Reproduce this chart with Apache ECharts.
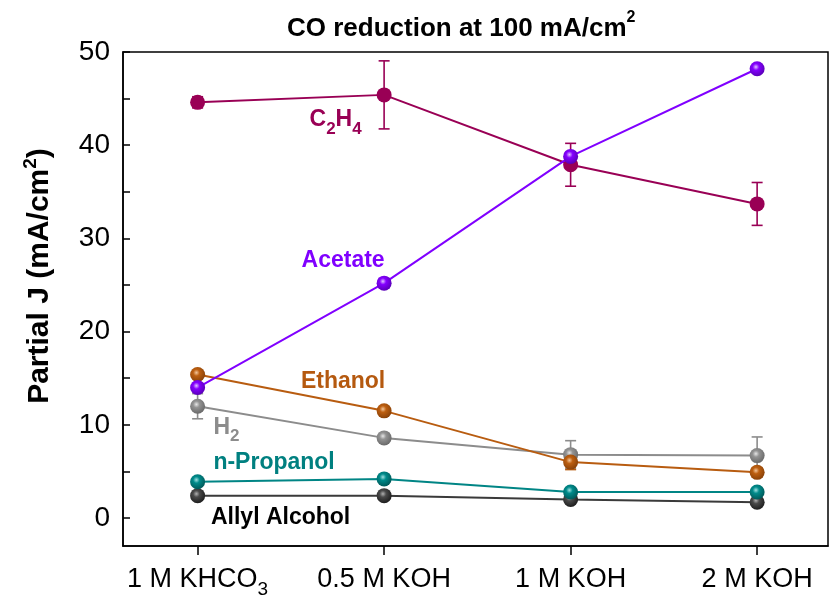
<!DOCTYPE html>
<html>
<head>
<meta charset="utf-8">
<script src="https://cdn.jsdelivr.net/npm/echarts@6/dist/echarts.min.js"></script>
<style>
  html, body { margin: 0; padding: 0; background: #fff; }
  #chart { width: 830px; height: 599px; }
</style>
</head>
<body>
<div id="chart"></div>
<script>
// Electrolyte conditions along the x axis (positions 1..4)
const conditions = ['1 M KHCO3', '0.5 M KOH', '1 M KOH', '2 M KOH'];
const conditionPos = [1, 2, 3, 4];
const yTickValues = [0, 10, 20, 30, 40, 50];
const yMinorTicks = [0, 5, 10, 15, 20, 25, 30, 35, 40, 45, 50];

// Partial current densities (mA/cm2) and their error bars
const c2h4 = [44.6, 45.4, 37.9, 33.7];
const c2h4Err = [0.6, 3.65, 2.3, 2.3];
const acetate = [14.0, 25.2, 38.8, 48.2];
const acetateErr = [0.3, 0.5, 0.3, 0.3];
const ethanol = [15.4, 11.5, 6.0, 4.9];
const ethanolErr = [0.3, 0.3, 0.8, 0.5];
const h2 = [12.0, 8.6, 6.8, 6.7];
const h2Err = [1.35, 0.3, 1.5, 2.0];
const propanol = [3.9, 4.2, 2.8, 2.8];
const propanolErr = [0.3, 0.2, 0.3, 0.2];
const allyl = [2.4, 2.4, 2.0, 1.7];
const allylErr = [0.2, 0.2, 0.2, 0.2];

// Where each product name sits, in data coordinates [x, y]
const nameAnchors = {
  c2h4: [1.74, 42.4],
  acetate: [1.78, 27.6],
  ethanol: [1.78, 14.6],
  h2: [1.155, 9.4],
  propanol: [1.41, 5.9],
  allyl: [1.445, -0.05]
};

const FONT = 'Liberation Sans, Arial, sans-serif';
const ZWSP = '\u200b';

function sphere(base, light, dark) {
  return {
    type: 'radial', x: 0.42, y: 0.38, r: 0.62,
    colorStops: [
      { offset: 0, color: light },
      { offset: 0.35, color: base },
      { offset: 1, color: dark }
    ]
  };
}

const products = [
  { key: 'allyl', name: 'Allyl Alcohol', vals: allyl, err: allylErr, color: '#3a3a3a',
    marker: sphere('#4a4a4a', '#b0b0b0', '#1e1e1e'), text: '{b|Allyl Alcohol}', textColor: '#000' },
  { key: 'propanol', name: 'n-Propanol', vals: propanol, err: propanolErr, color: '#008585',
    marker: sphere('#008b8b', '#9fe0e0', '#005a5a'), text: '{b|n-Propanol}', textColor: '#008080' },
  { key: 'h2', name: 'H2', vals: h2, err: h2Err, color: '#8c8c8c',
    marker: sphere('#939393', '#e6e6e6', '#6a6a6a'), text: '{b|H}{s|2}{z|' + ZWSP + '}', textColor: '#8c8c8c' },
  { key: 'ethanol', name: 'Ethanol', vals: ethanol, err: ethanolErr, color: '#b85c10',
    marker: sphere('#bd5f10', '#f3c69a', '#8a4208'), text: '{b|Ethanol}', textColor: '#b5590f' },
  { key: 'c2h4', name: 'C2H4', vals: c2h4, err: c2h4Err, color: '#990055',
    marker: '#990055', text: '{b|C}{s|2}{b|H}{s|4}{z|' + ZWSP + '}', textColor: '#990055' },
  { key: 'acetate', name: 'Acetate', vals: acetate, err: acetateErr, color: '#8000ff',
    marker: sphere('#8400ff', '#e2c4ff', '#5a00b8'), text: '{b|Acetate}', textColor: '#8000ff' }
];

function errorBarSeries(p) {
  const data = conditionPos.map((x, i) => [x, p.vals[i] - p.err[i], p.vals[i] + p.err[i]]);
  return {
    type: 'custom',
    name: p.name + ' error',
    z: 1,
    silent: true,
    data: data,
    encode: { x: 0, y: [1, 2] },
    renderItem: function (params, api) {
      const x = api.value(0);
      const lo = api.coord([x, api.value(1)]);
      const hi = api.coord([x, api.value(2)]);
      const half = 5.5;
      const style = { stroke: p.color, lineWidth: 1.6 };
      return {
        type: 'group',
        children: [
          { type: 'line', shape: { x1: lo[0], y1: lo[1], x2: hi[0], y2: hi[1] }, style: style },
          { type: 'line', shape: { x1: hi[0] - half, y1: hi[1], x2: hi[0] + half, y2: hi[1] }, style: style },
          { type: 'line', shape: { x1: lo[0] - half, y1: lo[1], x2: lo[0] + half, y2: lo[1] }, style: style }
        ]
      };
    }
  };
}

function lineSeries(p, idx) {
  return {
    type: 'line',
    name: p.name,
    z: 2 + idx,
    data: conditionPos.map((x, i) => [x, p.vals[i]]),
    symbol: 'circle',
    symbolSize: 15,
    showAllSymbol: true,
    lineStyle: { color: p.color, width: 2 },
    itemStyle: { color: p.marker, borderWidth: 0, opacity: 1 },
    emphasis: { disabled: true },
    animation: false
  };
}

function nameSeries(p) {
  const plain = { textBorderWidth: 0, textBorderColor: 'transparent', textShadowBlur: 0, opacity: 1 };
  return {
    type: 'scatter',
    name: p.name + ' label',
    z: 20,
    silent: true,
    symbolSize: 1,
    itemStyle: { color: 'rgba(0,0,0,0)', opacity: 1 },
    emphasis: { disabled: true },
    data: [nameAnchors[p.key]],
    label: Object.assign({
      show: true,
      position: 'inside',
      formatter: p.text,
      color: p.textColor,
      rich: {
        b: Object.assign({ fontFamily: FONT, fontWeight: 'bold', fontSize: 23, color: p.textColor,
             lineHeight: 24, verticalAlign: 'top' }, plain),
        s: Object.assign({ fontFamily: FONT, fontWeight: 'bold', fontSize: 17, color: p.textColor,
             lineHeight: 17, verticalAlign: 'bottom' }, plain),
        // spacer that deepens the line box so subscripts sit lower
        z: Object.assign({ fontSize: 2, lineHeight: 29, verticalAlign: 'bottom', color: 'transparent' }, plain)
      }
    }, plain)
  };
}

const series = [];
products.forEach(p => series.push(errorBarSeries(p)));
products.forEach((p, i) => series.push(lineSeries(p, i)));
products.forEach(p => series.push(nameSeries(p)));

const chart = echarts.init(document.getElementById('chart'), null, { renderer: 'canvas' });
chart.setOption({
  animation: false,
  backgroundColor: '#fff',
  title: {
    text: '{t|CO reduction at 100 mA/cm}{u|2}',
    left: 282,
    top: 5,
    textStyle: {
      rich: {
        t: { fontFamily: FONT, fontWeight: 'bold', fontSize: 26, color: '#000', lineHeight: 32, verticalAlign: 'bottom' },
        u: { fontFamily: FONT, fontWeight: 'bold', fontSize: 16, color: '#000', lineHeight: 16, verticalAlign: 'top', padding: [0, 0, 14, 0] }
      }
    }
  },
  grid: {
    left: 123, right: 2, top: 52, bottom: 53,
    outerBoundsMode: 'none',
    containLabel: false,
    show: true, borderColor: '#000', borderWidth: 1.5, backgroundColor: 'transparent'
  },
  xAxis: {
    type: 'value',
    min: 0.6,
    max: 4.38,
    splitLine: { show: false },
    axisLine: { show: true, onZero: false, lineStyle: { color: '#000', width: 1.5 } },
    axisTick: { show: true, inside: false, length: 9, customValues: conditionPos, lineStyle: { color: '#000', width: 1.5 } },
    axisLabel: {
      customValues: conditionPos,
      margin: 20,
      formatter: function (v) {
        const s = conditions[Math.round(v) - 1] || '';
        if (s.endsWith('KHCO3')) return '{n|' + s.slice(0, -1) + '}{s|3}{z|' + ZWSP + '}';
        return '{n|' + s + '}';
      },
      rich: {
        n: { fontFamily: FONT, fontSize: 27, color: '#000', lineHeight: 28, verticalAlign: 'top' },
        s: { fontFamily: FONT, fontSize: 19, color: '#000', lineHeight: 19, verticalAlign: 'bottom' },
        z: { fontSize: 2, lineHeight: 33, verticalAlign: 'bottom', color: 'transparent' }
      }
    }
  },
  yAxis: {
    type: 'value',
    min: -3,
    max: 50,
    splitLine: { show: false },
    axisLine: { show: true, lineStyle: { color: '#000', width: 1.5 } },
    axisTick: { show: true, inside: true, length: 7, customValues: yMinorTicks, lineStyle: { color: '#000', width: 1.5 } },
    axisLabel: {
      customValues: yTickValues,
      margin: 13,
      fontFamily: FONT,
      fontSize: 28,
      color: '#000'
    },
    name: '{p|Partial J (mA/cm}{q|2}{p|)}',
    nameLocation: 'middle',
    nameGap: 68,
    nameTextStyle: {
      padding: [0, 0, 0, 46],
      rich: {
        p: { fontFamily: FONT, fontWeight: 'bold', fontSize: 30, color: '#000', lineHeight: 34, verticalAlign: 'bottom' },
        q: { fontFamily: FONT, fontWeight: 'bold', fontSize: 19, color: '#000', lineHeight: 19, verticalAlign: 'top', padding: [0, 0, 15, 0] }
      }
    }
  },
  series: series
});
</script>
</body>
</html>
